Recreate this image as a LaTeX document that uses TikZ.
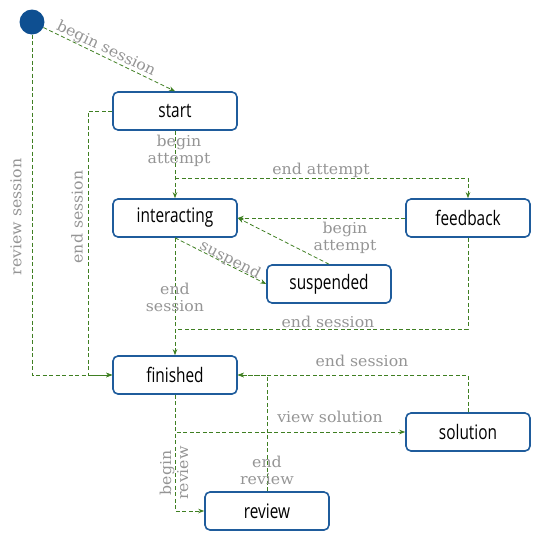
\documentclass[tikz,border=0pt]{standalone}
\usepackage{fontspec}
\usetikzlibrary{arrows.meta}
\newfontfamily\statefont[FakeStretch=0.77]{Open Sans}
\newfontfamily\eventfont[FakeStretch=1.05]{DejaVu Serif}
\definecolor{stateblue}{HTML}{1F5C9C}
\definecolor{initblue}{HTML}{0E4F91}
\definecolor{flowgreen}{HTML}{3F7F22}
\definecolor{eventgray}{HTML}{959595}
\tikzset{
  statebox/.style={draw=stateblue, line width=1.6pt, rounded corners=5pt, fill=white,
    minimum width=124pt, minimum height=38pt, inner sep=0pt,
    font=\statefont\fontsize{20}{22}\selectfont, text=black},
  initstate/.style={circle, fill=initblue, draw=none, minimum size=25pt, inner sep=0pt},
  flow/.style={draw=flowgreen, line width=0.8pt, dash pattern=on 4pt off 2.5pt},
  trans/.style={flow, -{Stealth[length=6pt,width=4.5pt]}},
  ev/.style={font=\eventfont\fontsize{15}{17}\selectfont, text=eventgray, align=center, inner sep=1pt}
}
\begin{document}
\begin{tikzpicture}[x=1pt,y=-1pt]
\useasboundingbox (0,0) rectangle (545,547);

% states
\node[initstate] (init) at (32,22) {};
\node[statebox] (start) at (175,111) {start};
\node[statebox] (interacting) at (175,218) {interacting};
\node[statebox] (feedback) at (468,218) {feedback};
\node[statebox] (suspended) at (329,284) {suspended};
\node[statebox] (finished) at (175,375) {finished};
\node[statebox] (solution) at (468,432) {solution};
\node[statebox] (review) at (267,511) {review};

% junction points on shared lines
\coordinate (eaFork) at (175,178);
\coordinate (esJoin) at (175,329);
\coordinate (esLeft) at (88,111);

% transitions
\draw[trans] (init) -- (start.north)
  node[ev, sloped, pos=0.45, above=-1pt] {begin session};
\draw[trans] (init.south) |- (finished.west);
\node[ev, rotate=90] (lblReview) at (16,217) {review session};

\draw[trans] (start.west) -- (esLeft) |- (finished.west);
\node[ev, rotate=90] (lblEndS1) at (77,217) {end session};

\draw[trans] (start.south) -- (interacting.north);
\node[ev] (lblBA1) at (179,151) {begin\\attempt};

\draw[trans] (eaFork) -| (feedback.north);
\node[ev] (lblEA) at (321,170) {end attempt};

\draw[trans] (feedback.west) -- (interacting.east);
\draw[trans] (suspended.north) -- (interacting.east);
\node[ev] (lblBA2) at (345,238) {begin\\attempt};

\draw[trans] (interacting.south) -- (suspended.west)
  node[ev, sloped, pos=0.58, yshift=5pt] {suspend};

\draw[trans] (interacting.south) -- (finished.north);
\node[ev] (lblEndS2) at (175,297) {end\\session};

\draw[flow] (feedback.south) |- (esJoin);
\node[ev] (lblEndS3) at (328,322) {end session};

\draw[trans] (solution.north) |- (finished.east);
\node[ev] (lblEndS4) at (362,361) {end session};

\draw[trans] (review.north) |- (finished.east);
\node[ev] (lblER) at (267,470) {end\\review};

\draw[trans] (finished.south) |- (solution.west);
\node[ev] (lblVS) at (330,417) {view solution};

\draw[trans] (finished.south) |- (review.west);
\node[ev, rotate=90] (lblBR) at (174,473) {begin\\review};
\end{tikzpicture}
\end{document}
